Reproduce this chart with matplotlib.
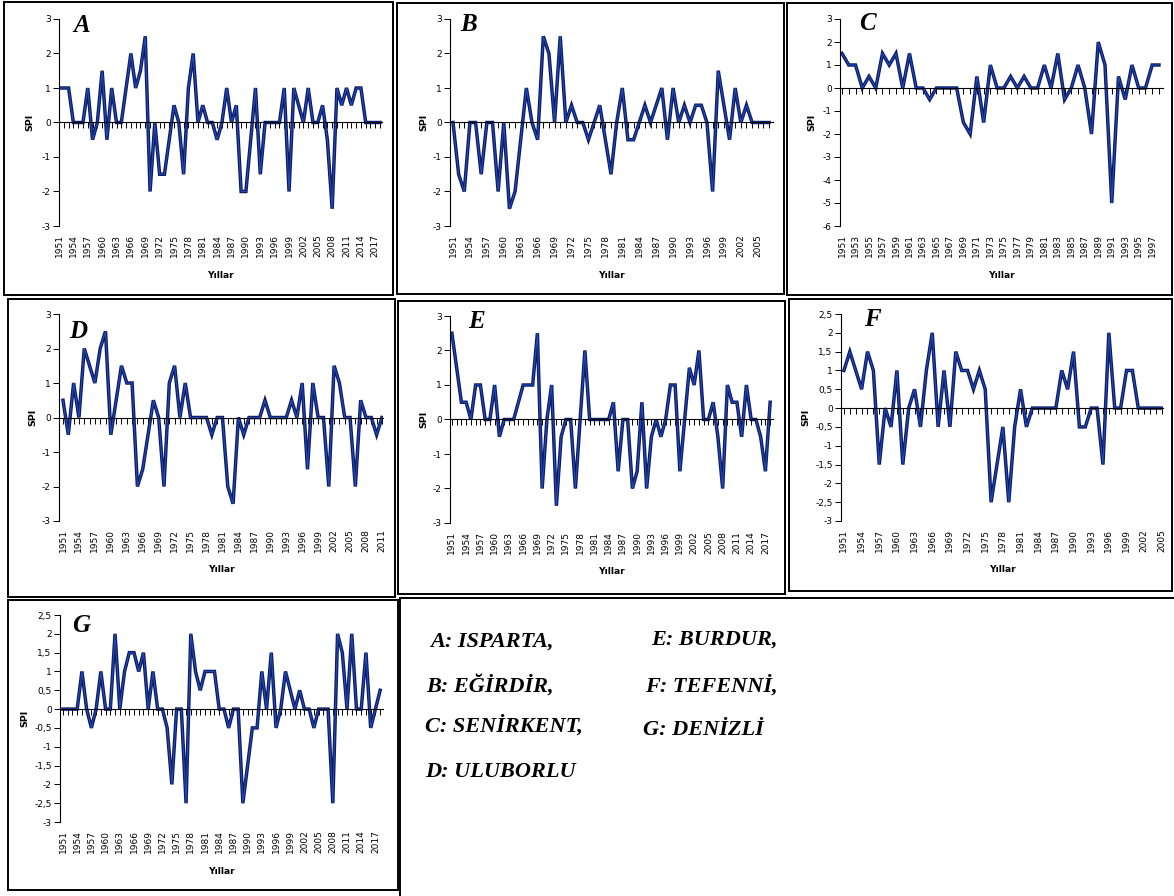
import matplotlib
matplotlib.use("Agg")
import matplotlib.pyplot as plt
from matplotlib.patches import Rectangle
from matplotlib.lines import Line2D
from matplotlib.ticker import FuncFormatter, MultipleLocator

W, H = 1174, 896

# SPI values, one list per station
spi_a = [1, 1, 1, 0, 0, 0, 1, -0.5, 0, 1.5,
         -0.5, 1, 0, 0, 1, 2, 1, 1.5, 2.5, -2,
         0, -1.5, -1.5, -0.5, 0.5, 0, -1.5, 1, 2, 0,
         0.5, 0, 0, -0.5, 0, 1, 0, 0.5, -2, -2,
         -0.5, 1, -1.5, 0, 0, 0, 0, 1, -2, 1,
         0.5, 0, 1, 0, 0, 0.5, -0.5, -2.5, 1, 0.5,
         1, 0.5, 1, 1, 0, 0, 0, 0]
spi_b = [0, -1.5, -2, 0, 0, -1.5, 0, 0, -2, 0,
         -2.5, -2, -0.5, 1, 0, -0.5, 2.5, 2, 0, 2.5,
         0, 0.5, 0, 0, -0.5, 0, 0.5, -0.5, -1.5, 0,
         1, -0.5, -0.5, 0, 0.5, 0, 0.5, 1, -0.5, 1,
         0, 0.5, 0, 0.5, 0.5, 0, -2, 1.5, 0.5, -0.5,
         1, 0, 0.5, 0, 0, 0, 0]
spi_c = [1.5, 1, 1, 0, 0.5, 0, 1.5, 1, 1.5, 0,
         1.5, 0, 0, -0.5, 0, 0, 0, 0, -1.5, -2,
         0.5, -1.5, 1, 0, 0, 0.5, 0, 0.5, 0, 0,
         1, 0, 1.5, -0.5, 0, 1, 0, -2, 2, 1,
         -5, 0.5, -0.5, 1, 0, 0, 1, 1]
spi_d = [0.5, -0.5, 1, 0, 2, 1.5, 1, 2, 2.5, -0.5,
         0.5, 1.5, 1, 1, -2, -1.5, -0.5, 0.5, 0, -2,
         1, 1.5, 0, 1, 0, 0, 0, 0, -0.5, 0,
         0, -2, -2.5, 0, -0.5, 0, 0, 0, 0.5, 0,
         0, 0, 0, 0.5, 0, 1, -1.5, 1, 0, 0,
         -2, 1.5, 1, 0, 0, -2, 0.5, 0, 0, -0.5, 0]
spi_e = [2.5, 1.5, 0.5, 0.5, 0, 1, 1, 0, 0, 1,
         -0.5, 0, 0, 0, 0.5, 1, 1, 1, 2.5, -2,
         0, 1, -2.5, -0.5, 0, 0, -2, 0, 2, 0,
         0, 0, 0, 0, 0.5, -1.5, 0, 0, -2, -1.5,
         0.5, -2, -0.5, 0, -0.5, 0, 1, 1, -1.5, 0,
         1.5, 1, 2, 0, 0, 0.5, -0.5, -2, 1, 0.5,
         0.5, -0.5, 1, 0, 0, -0.5, -1.5, 0.5]
spi_f = [1, 1.5, 1, 0.5, 1.5, 1, -1.5, 0, -0.5, 1,
         -1.5, 0, 0.5, -0.5, 1, 2, -0.5, 1, -0.5, 1.5,
         1, 1, 0.5, 1, 0.5, -2.5, -1.5, -0.5, -2.5, -0.5,
         0.5, -0.5, 0, 0, 0, 0, 0, 1, 0.5, 1.5,
         -0.5, -0.5, 0, 0, -1.5, 2, 0, 0, 1, 1,
         0, 0, 0, 0, 0]
spi_g = [0, 0, 0, 0, 1, 0, -0.5, 0, 1, 0,
         0, 2, 0, 1, 1.5, 1.5, 1, 1.5, 0, 1,
         0, 0, -0.5, -2, 0, 0, -2.5, 2, 1, 0.5,
         1, 1, 1, 0, 0, -0.5, 0, 0, -2.5, -1.5,
         -0.5, -0.5, 1, 0, 1.5, -0.5, 0, 1, 0.5, 0,
         0.5, 0, 0, -0.5, 0, 0, 0, -2.5, 2, 1.5,
         0, 2, 0, 0, 1.5, -0.5, 0, 0.5]

panel_letters = ["A", "B", "C", "D", "E", "F", "G"]
station_labels = ["A: ISPARTA,", "B: EĞİRDİR,", "C: SENİRKENT,", "D: ULUBORLU",
                  "E: BURDUR,", "F: TEFENNİ,", "G: DENİZLİ"]

# layout in reference pixels: axes box, y-limits, x-limits, label step, SPI offset, letter pos
panels = [
    (spi_a, (59, 382, 19, 226), (-3, 3), 1, (1951, 2018.4), 3, -29, (82, 32)),
    (spi_b, (450, 773, 19, 226), (-3, 3), 1, (1950.47, 2007.7), 3, -26, (469, 31)),
    (spi_c, (840, 1163, 19, 226), (-6, 3), 1, (1950.7, 1998.6), 2, -28, (867, 30)),
    (spi_d, (59, 383, 314, 521), (-3, 3), 1, (1950.25, 2011.2), 3, -26, (78, 338)),
    (spi_e, (450, 773, 316, 523), (-3, 3), 1, (1950.6, 2018.6), 3, -26, (476, 328)),
    (spi_f, (841, 1163, 314, 521), (-3, 2.5), 0.5, (1950.5, 2005.2), 3, -35, (872, 326)),
    (spi_g, (60, 383, 615, 822), (-3, 2.5), 0.5, (1950.37, 2018.6), 3, -35, (81, 632)),
]

boxes = [(4, 2, 393, 295), (397, 3, 784, 294), (787, 3, 1172, 295),
         (8, 299, 395, 597), (398, 301, 785, 594), (789, 299, 1172, 591),
         (8, 600, 398, 890)]

comma_fmt = FuncFormatter(lambda v, p: f"{v:g}".replace(".", ","))

fig = plt.figure(figsize=(W / 100, H / 100), dpi=100)
fig.patch.set_facecolor("white")


def fx(x):
    return x / W


def fy(y):
    return 1 - y / H


for (x0, y0, x1, y1) in boxes:
    fig.add_artist(Rectangle((fx(x0), fy(y1)), fx(x1) - fx(x0), fy(y0) - fy(y1),
                             transform=fig.transFigure, fill=False,
                             edgecolor="black", linewidth=1.4))

# legend box only shows its left and top edges
fig.add_artist(Line2D([fx(400), fx(400)], [fy(598), fy(896)],
                      transform=fig.transFigure, color="black", lw=1.4))
fig.add_artist(Line2D([fx(400), fx(1174)], [fy(598), fy(598)],
                      transform=fig.transFigure, color="black", lw=1.4))

for letter, (vals, box, ylim, ystep, xlim, lstep, spi_off, lpos) in zip(panel_letters, panels):
    x0, x1, yt, yb = box
    ax = fig.add_axes([fx(x0), fy(yb), fx(x1) - fx(x0), fy(yt) - fy(yb)])
    years = list(range(1951, 1951 + len(vals)))
    # dark navy line with a lighter blue core, like the scanned original
    ax.plot(years, vals, color="#0b1c62", lw=2.5, solid_joinstyle="miter")
    ax.plot(years, vals, color="#2448b8", lw=0.8, solid_joinstyle="miter")

    ax.set_xlim(*xlim)
    ax.set_ylim(*ylim)
    ax.spines["top"].set_visible(False)
    ax.spines["right"].set_visible(False)
    ax.spines["bottom"].set_position(("data", 0))
    for s in ("left", "bottom"):
        ax.spines[s].set_linewidth(0.8)
    ax.set_xticks(years)
    ax.set_xticklabels([])
    ax.tick_params(axis="x", direction="out", length=4, width=0.7)
    ax.yaxis.set_major_locator(MultipleLocator(ystep))
    ax.yaxis.set_major_formatter(comma_fmt)
    ax.tick_params(axis="y", direction="out", length=4, width=0.7,
                   labelsize=6.5, pad=2)

    sec = ax.secondary_xaxis("bottom")
    lyears = years[::lstep]
    sec.set_xticks(lyears)
    sec.set_xticklabels([str(y) for y in lyears], rotation=90, fontsize=6.5)
    sec.tick_params(length=0, pad=6)
    sec.spines["bottom"].set_visible(False)

    wpx = x1 - x0
    hpx = yb - yt
    ax.text(spi_off / wpx, 0.5, "SPI", transform=ax.transAxes, rotation=90,
            ha="center", va="center", fontsize=6.8, fontweight="bold")
    ax.text(0.5, -49 / hpx, "Yıllar", transform=ax.transAxes,
            ha="center", va="center", fontsize=6.6, fontweight="bold")

    fig.text(fx(lpos[0]), fy(lpos[1]), letter, ha="center", va="baseline",
             fontsize=18, fontweight="bold", fontstyle="italic",
             family="Liberation Serif")

legend_pos = [(430, 647), (426, 692), (425, 732), (425, 777),
              (651, 645), (645, 692), (643, 735)]
for label, (lx, ly) in zip(station_labels, legend_pos):
    fig.text(fx(lx), fy(ly), label, ha="left", va="baseline", fontsize=16,
             fontweight="bold", fontstyle="italic", family="Liberation Serif")

fig.savefig("out.png", dpi=100)
